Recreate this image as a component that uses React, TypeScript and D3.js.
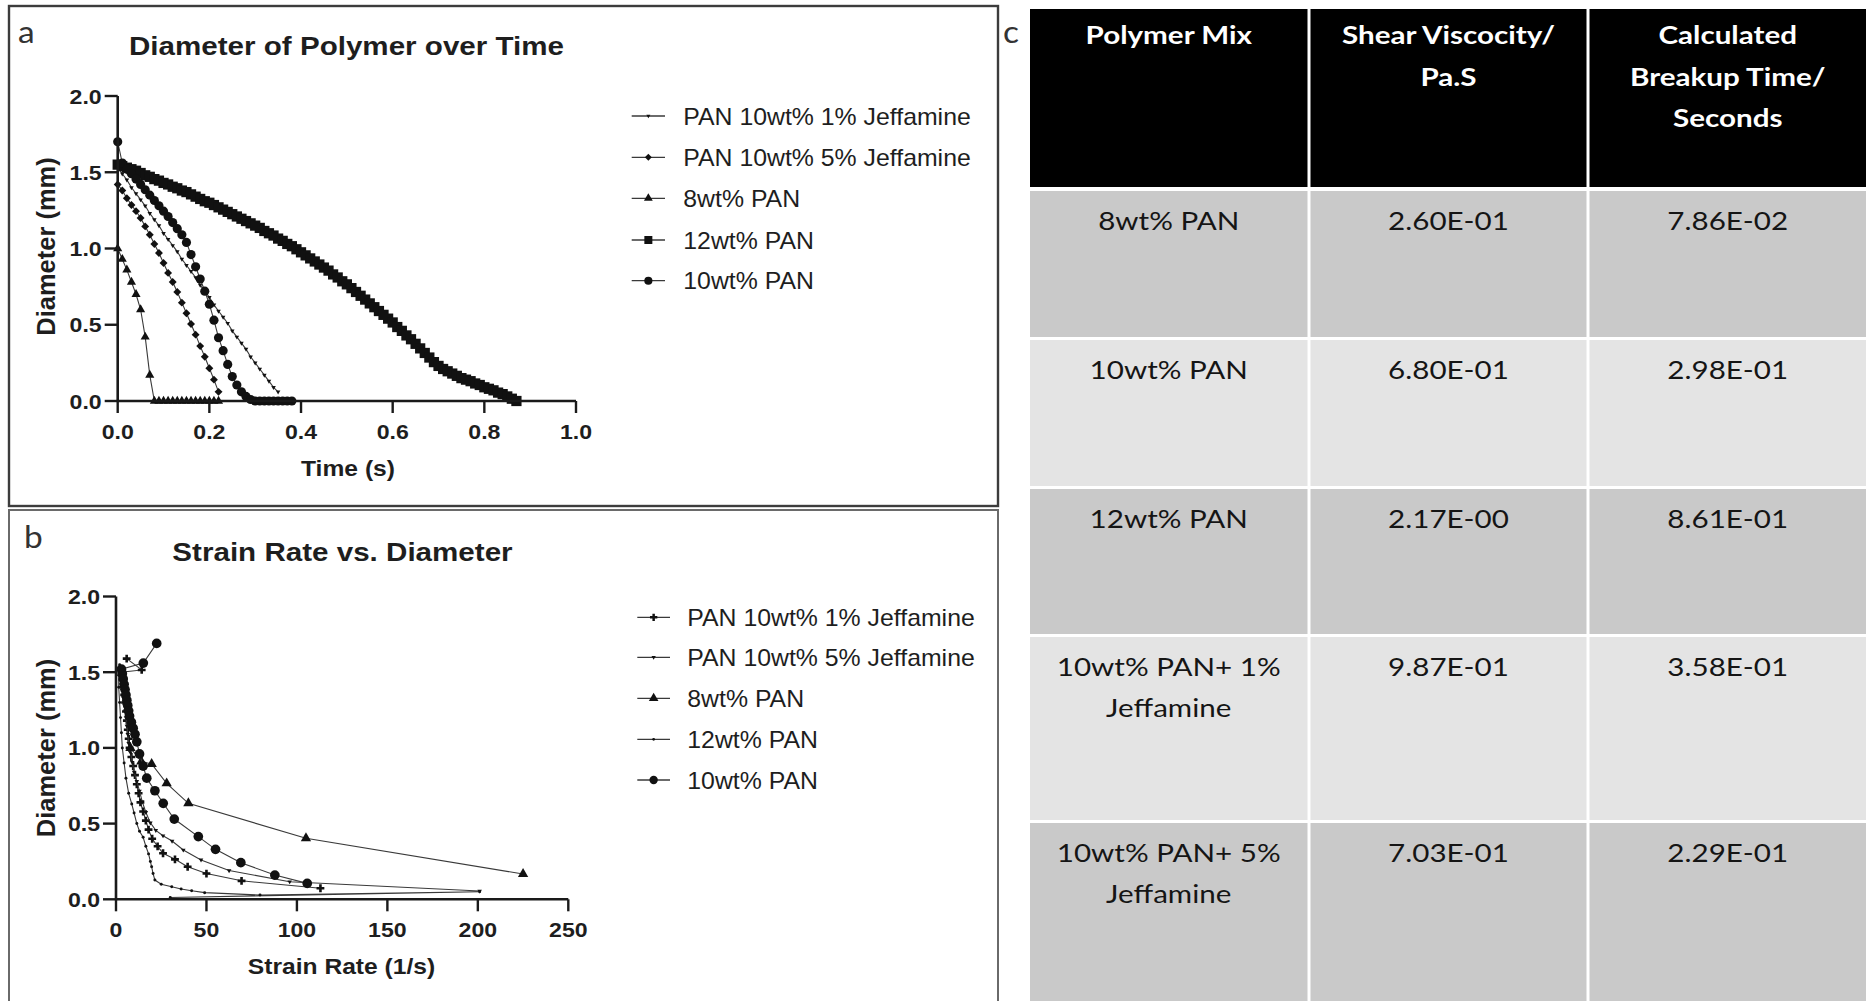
import React from 'react';
import * as d3 from 'd3';

// horizontal stretch of the original figure (text looks wider than tall)
const SX = 1.16;
const W = 1867;
const H = 1001;

// ---- panel a : diameter vs time, one value per video frame ----
const FRAME_S = 0.01;
const jeff1Diam = [1.53, 1.49, 1.45, 1.4, 1.36, 1.32, 1.28, 1.23, 1.19, 1.15, 1.1, 1.06, 1.02, 0.98, 0.93, 0.89, 0.85, 0.81,
  0.76, 0.72, 0.68, 0.63, 0.59, 0.55, 0.51, 0.46, 0.42, 0.38, 0.34, 0.29, 0.25, 0.21, 0.17, 0.13, 0.09, 0.06];
const jeff5Diam = [1.42, 1.38, 1.33, 1.285, 1.245, 1.2, 1.145, 1.09, 1.03, 0.97, 0.905, 0.84, 0.78, 0.715, 0.645, 0.575,
  0.505, 0.435, 0.36, 0.29, 0.215, 0.14, 0.06];
const pan8Diam = [1.0, 0.93, 0.86, 0.78, 0.7, 0.6, 0.42, 0.17, 0.0, 0, 0, 0, 0, 0, 0, 0, 0, 0, 0, 0, 0, 0, 0];
const pan12Diam = [1.55, 1.54, 1.53, 1.52, 1.51, 1.495, 1.48, 1.47, 1.455, 1.445, 1.43, 1.42, 1.405, 1.395, 1.38, 1.37,
  1.355, 1.34, 1.325, 1.31, 1.3, 1.285, 1.27, 1.255, 1.24, 1.225, 1.21, 1.195, 1.18, 1.165, 1.15, 1.135, 1.115, 1.1,
  1.085, 1.065, 1.05, 1.03, 1.015, 0.995, 0.975, 0.955, 0.935, 0.915, 0.895, 0.875, 0.855, 0.83, 0.81, 0.785, 0.765,
  0.74, 0.715, 0.69, 0.665, 0.64, 0.615, 0.59, 0.565, 0.54, 0.515, 0.485, 0.46, 0.43, 0.405, 0.375, 0.345, 0.315,
  0.285, 0.255, 0.23, 0.21, 0.195, 0.18, 0.165, 0.15, 0.14, 0.13, 0.115, 0.105, 0.09, 0.08, 0.07, 0.055, 0.045, 0.03,
  0.015, 0.0];
const pan10Diam = [1.7, 1.56, 1.52, 1.49, 1.455, 1.42, 1.385, 1.35, 1.315, 1.28, 1.245, 1.21, 1.17, 1.13, 1.09, 1.04,
  0.96, 0.88, 0.8, 0.72, 0.635, 0.53, 0.415, 0.33, 0.24, 0.16, 0.105, 0.06, 0.03, 0.01, 0, 0, 0, 0, 0, 0, 0, 0, 0];

// ---- panel b : [strain rate (1/s), diameter (mm)] ----
const jeff1Strain = [[5.9, 1.59], [14.2, 1.515], [3, 1.5], [3.5, 1.45], [4, 1.4], [4.5, 1.35], [5, 1.3], [5.5, 1.24],
  [6, 1.18], [6.5, 1.12], [7, 1.06], [7.5, 1.0], [8.5, 0.94], [9.5, 0.88], [10.5, 0.82], [11.5, 0.76], [12.5, 0.7],
  [13.5, 0.64], [15, 0.58], [16.5, 0.52], [18, 0.46], [20, 0.4], [23, 0.35], [26, 0.304], [32.6, 0.264], [39.6, 0.215],
  [50, 0.17], [69.4, 0.122], [113, 0.073]];
const jeff5Strain = [[3, 1.42], [3.5, 1.38], [4, 1.33], [4.5, 1.285], [5, 1.245], [5.5, 1.2], [6, 1.145], [6.5, 1.09],
  [7, 1.03], [8, 0.97], [9, 0.905], [10, 0.84], [11.5, 0.78], [13, 0.715], [14.5, 0.645], [16.5, 0.575], [19, 0.505],
  [22, 0.455], [26, 0.42], [31, 0.385], [37.2, 0.326], [47, 0.26], [62.5, 0.19], [96, 0.116], [201, 0.055]];
const pan8Strain = [[8, 1.0], [14, 0.91], [19.7, 0.894], [28, 0.766], [40, 0.634], [105, 0.403], [225, 0.167]];
const pan12Strain = [[2, 1.55], [1.5, 1.48], [1.5, 1.4], [2, 1.3], [2.5, 1.2], [3, 1.1], [3.5, 1.0], [4.5, 0.9],
  [5.5, 0.8], [7, 0.7], [8.7, 0.63], [10, 0.57], [11.5, 0.5], [13, 0.45], [15, 0.41], [16.5, 0.35], [18, 0.3],
  [19, 0.25], [19.7, 0.215], [20.5, 0.17], [21.5, 0.127], [25, 0.1], [30.8, 0.083], [36, 0.068], [41.8, 0.057],
  [49, 0.044], [79.6, 0.028], [201, 0.05], [30, 0.012]];
const pan10Strain = [[22.5, 1.69], [15.1, 1.56], [3, 1.52], [3.5, 1.49], [4, 1.455], [4.5, 1.42], [5, 1.385],
  [5.5, 1.35], [6, 1.315], [6.5, 1.28], [7, 1.245], [7.5, 1.21], [8.5, 1.17], [9.5, 1.13], [10.5, 1.09], [11.5, 1.04],
  [13, 0.96], [15, 0.88], [17, 0.8], [21.5, 0.717], [26.1, 0.634], [32.2, 0.53], [45.5, 0.414], [55, 0.33],
  [69, 0.242], [87.8, 0.16], [105.7, 0.105]];

const seriesNames = ['PAN 10wt% 1% Jeffamine', 'PAN 10wt% 5% Jeffamine', '8wt% PAN', '12wt% PAN', '10wt% PAN'];

// ---- panel c : table ----
const polymerMix = [['8wt% PAN'], ['10wt% PAN'], ['12wt% PAN'], ['10wt% PAN+ 1%', 'Jeffamine'], ['10wt% PAN+ 5%', 'Jeffamine']];
const shearViscosity = ['2.60E-01', '6.80E-01', '2.17E-00', '9.87E-01', '7.03E-01'];
const breakupTime = ['7.86E-02', '2.98E-01', '8.61E-01', '3.58E-01', '2.29E-01'];
const headers = [['Polymer Mix'], ['Shear Viscocity/', 'Pa.S'], ['Calculated', 'Breakup Time/', 'Seconds']];

const ARIAL = '"Liberation Sans", Arial, sans-serif';
const CALIBRI = 'Lato, "Open Sans", sans-serif';

const T = ({ x, y, size, anchor = 'start', weight = 'normal', family = ARIAL, fill = '#1e1e1e', sx = SX, rotate = 0, children }: any) => (
  <text
    transform={`translate(${x},${y}) rotate(${rotate}) scale(${sx},1)`}
    textAnchor={anchor}
    fontSize={size}
    fontWeight={weight}
    fontFamily={family}
    fill={fill}
  >
    {children}
  </text>
);

const toFrames = (diam: number[]) => diam.map((d, i) => [i * FRAME_S, d]);

const mk = (type: any, size: number, rot = 0) => ({ path: d3.symbol(type, size)(), rot });

const Panel = ({ xs, ys, xTicks, yTicks, xFmt, series, title, titleX, titleY, xTitle, xTitleX, yTitleY, legX, legY, legTextX }: any) => {
  const line = d3.line<number[]>().x((d) => xs(d[0])).y((d) => ys(d[1]));
  const [x0] = xs.range();
  const [y0] = ys.range();
  return (
    <g>
      <T x={titleX} y={titleY} size={25.5} weight="bold" anchor="middle">{title}</T>
      {series.map((s: any, i: number) => (
        <g key={i}>
          <path d={line(s.pts) as string} fill="none" stroke="#3a3a3a" strokeWidth={1.1} />
          {s.pts.map((p: number[], j: number) => (
            <path key={j} d={s.marker.path} transform={`translate(${xs(p[0])},${ys(p[1])}) rotate(${s.marker.rot})`} fill="#111" />
          ))}
        </g>
      ))}
      {/* axes */}
      <line x1={x0} x2={x0} y1={y0 + 1} y2={ys(2)} stroke="#1a1a1a" strokeWidth={2.6} />
      <line x1={x0 - 1} x2={xs(xs.domain()[1])} y1={y0} y2={y0} stroke="#1a1a1a" strokeWidth={2.6} />
      {yTicks.map((v: number) => (
        <g key={v}>
          <line x1={x0 - 13} x2={x0} y1={ys(v)} y2={ys(v)} stroke="#1a1a1a" strokeWidth={2.4} />
          <T x={x0 - 16} y={ys(v) + 7.5} size={21} weight="bold" anchor="end" sx={1.1}>{v.toFixed(1)}</T>
        </g>
      ))}
      {xTicks.map((v: number) => (
        <g key={v}>
          <line x1={xs(v)} x2={xs(v)} y1={y0} y2={y0 + 12} stroke="#1a1a1a" strokeWidth={2.4} />
          <T x={xs(v)} y={y0 + 38} size={21} weight="bold" anchor="middle" sx={1.1}>{xFmt(v)}</T>
        </g>
      ))}
      <T x={xTitleX} y={y0 + 75} size={22} weight="bold" anchor="middle" sx={1.12}>{xTitle}</T>
      <T x={55} y={yTitleY} size={25.5} weight="bold" anchor="middle" rotate={-90} sx={1}>Diameter (mm)</T>
      {/* legend */}
      {series.map((s: any, i: number) => (
        <g key={'l' + i}>
          <line x1={legX[0]} x2={legX[1]} y1={legY[i]} y2={legY[i]} stroke="#3a3a3a" strokeWidth={1.3} />
          <path d={s.legendMarker.path} transform={`translate(${(legX[0] + legX[1]) / 2},${legY[i]}) rotate(${s.legendMarker.rot})`} fill="#111" />
          <T x={legTextX} y={legY[i] + 8.5} size={23} sx={1.08}>{seriesNames[i]}</T>
        </g>
      ))}
    </g>
  );
};

export default function App() {
  // panel a scales
  const xA = d3.scaleLinear().domain([0, 1]).range([117.7, 576]);
  const yA = d3.scaleLinear().domain([0, 2]).range([401, 96]);
  // panel b scales
  const xB = d3.scaleLinear().domain([0, 250]).range([116, 568.3]);
  const yB = d3.scaleLinear().domain([0, 2]).range([899.3, 596.5]);

  const seriesA = [
    { pts: toFrames(jeff1Diam), marker: mk(d3.symbolTriangle, 9, 180), legendMarker: mk(d3.symbolTriangle, 7, 180) },
    { pts: toFrames(jeff5Diam), marker: mk(d3.symbolDiamond2, 40), legendMarker: mk(d3.symbolDiamond2, 30) },
    { pts: toFrames(pan8Diam), marker: mk(d3.symbolTriangle, 36), legendMarker: mk(d3.symbolTriangle, 34) },
    { pts: toFrames(pan12Diam), marker: mk(d3.symbolSquare, 105), legendMarker: mk(d3.symbolSquare, 64) },
    { pts: toFrames(pan10Diam), marker: mk(d3.symbolCircle, 66), legendMarker: mk(d3.symbolCircle, 52) },
  ];
  const seriesB = [
    { pts: jeff1Strain, marker: mk(d3.symbolCross, 34), legendMarker: mk(d3.symbolCross, 30) },
    { pts: jeff5Strain, marker: mk(d3.symbolTriangle, 9, 180), legendMarker: mk(d3.symbolTriangle, 8, 180) },
    { pts: pan8Strain, marker: mk(d3.symbolTriangle, 46), legendMarker: mk(d3.symbolTriangle, 40) },
    { pts: pan12Strain, marker: mk(d3.symbolCircle, 7), legendMarker: mk(d3.symbolCircle, 6) },
    { pts: pan10Strain, marker: mk(d3.symbolCircle, 74), legendMarker: mk(d3.symbolCircle, 55) },
  ];

  // table layout
  const colX = [1030, 1310.5, 1589.5, 1869];
  const rowY = [9, 191, 340, 489, 637, 823, 1010];
  const rowFill = ['#c9c9c9', '#e4e4e4', '#c9c9c9', '#e4e4e4', '#c9c9c9'];
  const colMid = (c: number) => (colX[c] + colX[c + 1] - 3) / 2;

  return (
    <svg width={W} height={H} style={{ position: 'absolute', left: 0, top: 0, background: '#fff' }}>
      <rect width={W} height={H} fill="#fff" />
      {/* panel frames */}
      <rect x={9} y={6} width={989} height={500} fill="none" stroke="#3c3c3c" strokeWidth={2.4} />
      <rect x={9} y={510} width={989} height={520} fill="none" stroke="#6a6a6a" strokeWidth={2} />
      <T x={18} y={43} size={31} family={CALIBRI} fill="#333" sx={1.08}>a</T>
      <T x={24} y={548} size={31} family={CALIBRI} fill="#333" sx={1.08}>b</T>
      <T x={1003} y={43} size={31} family={CALIBRI} fill="#333" sx={1.08}>c</T>

      <Panel xs={xA} ys={yA} xTicks={[0, 0.2, 0.4, 0.6, 0.8, 1.0]} yTicks={[0, 0.5, 1, 1.5, 2]}
        xFmt={(v: number) => v.toFixed(1)} series={seriesA}
        title="Diameter of Polymer over Time" titleX={346.5} titleY={55}
        xTitle="Time (s)" xTitleX={348} yTitleY={246.5}
        legX={[631.7, 665]} legY={[116, 157.3, 198.3, 240, 280.7]} legTextX={683.3} />
      <Panel xs={xB} ys={yB} xTicks={[0, 50, 100, 150, 200, 250]} yTicks={[0, 0.5, 1, 1.5, 2]}
        xFmt={(v: number) => String(v)} series={seriesB}
        title="Strain Rate vs. Diameter" titleX={342.5} titleY={561}
        xTitle="Strain Rate (1/s)" xTitleX={341.5} yTitleY={748}
        legX={[637.3, 670]} legY={[617.3, 657.3, 698.3, 739.3, 780]} legTextX={687.3} />

      {/* panel c table */}
      <g>
        {headers.map((lines, c) => (
          <g key={'h' + c}>
            <rect x={colX[c]} y={rowY[0]} width={colX[c + 1] - colX[c] - 3} height={rowY[1] - rowY[0] - 4} fill="#000" />
            {lines.map((ln, k) => (
              <T key={k} x={colMid(c)} y={44 + k * 41.5} size={25.5} weight="bold" family={CALIBRI} fill="#fff" anchor="middle">{ln}</T>
            ))}
          </g>
        ))}
        {polymerMix.map((mix, r) => {
          const top = rowY[r + 1];
          const h = rowY[r + 2] - top - 3;
          const cells = [mix, [shearViscosity[r]], [breakupTime[r]]];
          return (
            <g key={'r' + r}>
              {cells.map((lines, c) => (
                <g key={c}>
                  <rect x={colX[c]} y={top} width={colX[c + 1] - colX[c] - 3} height={h} fill={rowFill[r]} />
                  {lines.map((ln, k) => (
                    <T key={k} x={colMid(c)} y={top + 39 + k * 40.5} size={25.5} family={CALIBRI} fill="#151515" anchor="middle">{ln}</T>
                  ))}
                </g>
              ))}
            </g>
          );
        })}
      </g>
    </svg>
  );
}
